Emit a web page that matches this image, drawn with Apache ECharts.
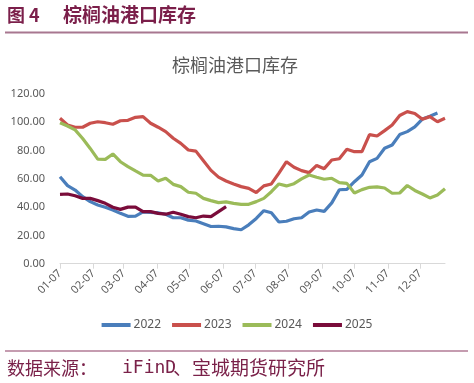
<!DOCTYPE html>
<html><head><meta charset="utf-8">
<script src="https://cdn.jsdelivr.net/npm/echarts@6/dist/echarts.min.js"></script>
<style>html,body{margin:0;padding:0;background:#fff}#c{width:474px;height:383px}</style>
</head><body><div id="c"></div>
<script>
// Month tick labels (MM-DD)
const monthLabels = ['01-07','02-07','03-07','04-07','05-07','06-07','07-07','08-07','09-07','10-07','11-07','12-07'];
// Y axis tick values
const yTicks = [0, 20, 40, 60, 80, 100, 120];
const seriesNames = ['2022', '2023', '2024', '2025'];
// Weekly port inventory values, starting 01-07, one value per week
const s2022 = [61.5, 55.2, 52.1, 47.4, 43.9, 41.5, 39.9, 38.0, 35.6, 33.5, 33.7, 36.6, 36.3, 36.0, 35.0, 32.5, 32.5, 30.8, 30.2, 28.3, 26.3, 26.5, 26.0, 24.8, 24.0, 27.5, 32.0, 37.5, 36.0, 29.5, 30.0, 31.8, 32.5, 36.5, 38.0, 37.0, 43.0, 52.3, 52.6, 58.0, 62.7, 72.1, 74.5, 81.6, 83.9, 91.3, 93.4, 96.7, 102.3, 104.2, 106.5];
const s2023 = [102.8, 98.1, 96.5, 96.5, 99.3, 100.4, 99.7, 98.6, 101.1, 101.4, 103.5, 104.0, 99.3, 96.5, 93.4, 88.7, 85.1, 80.4, 79.6, 72.8, 66.0, 61.2, 58.5, 56.4, 54.5, 53.3, 50.3, 55.0, 56.4, 64.0, 72.1, 68.2, 65.8, 64.4, 69.5, 67.2, 73.3, 74.2, 80.9, 79.2, 79.2, 91.3, 90.3, 94.1, 98.1, 104.8, 107.5, 106.2, 102.1, 104.0, 100.4, 102.8];
const s2024 = [99.7, 97.4, 94.6, 88.5, 81.5, 73.9, 73.8, 77.6, 72.1, 68.6, 65.6, 62.7, 62.5, 58.5, 60.4, 56.1, 54.5, 50.5, 49.8, 46.2, 44.6, 43.2, 43.7, 42.7, 42.0, 42.0, 43.9, 46.2, 50.9, 56.4, 55.0, 56.6, 60.0, 62.7, 61.1, 59.7, 60.4, 57.3, 56.8, 50.0, 52.4, 54.0, 54.3, 53.5, 49.8, 50.0, 55.3, 51.8, 49.3, 46.5, 48.6, 53.0];
const s2025 = [49.0, 49.3, 48.0, 46.2, 46.2, 44.6, 42.7, 39.9, 38.4, 40.0, 40.0, 36.8, 36.8, 35.6, 35.0, 36.4, 35.0, 33.3, 32.5, 33.7, 33.3, 36.8, 40.3];

const colors = ['#4A7EBB', '#C9504C', '#9BBB59', '#7A0C3A'];
const DAY = 86400000;
const base = Date.UTC(2022, 0, 7);
const monthDays = monthLabels.map(l => { const p = l.split('-').map(Number); return (Date.UTC(2022, p[0] - 1, p[1]) - base) / DAY; });
const labelByDay = {};
monthDays.forEach((d, i) => { labelByDay[d] = monthLabels[i]; });
const toPairs = arr => arr.map((v, i) => [i * 7, v]);
const allSeries = [s2022, s2023, s2024, s2025];
const xMax = (Math.max(...allSeries.map(a => a.length)) - 1) * 7;

const chart = echarts.init(document.getElementById('c'), null, { renderer: 'canvas' });
const cjk = '"Noto Sans CJK SC", "Noto Sans", sans-serif';
chart.setOption({
  animation: false,
  backgroundColor: '#ffffff',
  graphic: [
    { type: 'text', x: 7, y: 15, style: { text: '图 4', font: 'bold 18px ' + cjk, fill: '#7B1F4A', verticalAlign: 'middle' } },
    { type: 'text', x: 63, y: 15, style: { text: '棕榈油港口库存', font: 'bold 19px ' + cjk, fill: '#7B1F4A', verticalAlign: 'middle' } },
    { type: 'line', shape: { x1: 5, y1: 32.5, x2: 468, y2: 32.5 }, style: { stroke: '#A87790', lineWidth: 2 } },
    { type: 'text', x: 235, y: 65, style: { text: '棕榈油港口库存', font: '18px ' + cjk, fill: '#595959', align: 'center', verticalAlign: 'middle' } },
    { type: 'line', shape: { x1: 5, y1: 351, x2: 468, y2: 351 }, style: { stroke: '#8B3A62', lineWidth: 1.2 } },
    { type: 'text', x: 7, y: 368, style: { text: '数据来源：', font: '18px ' + cjk, fill: '#7A2149', verticalAlign: 'middle' } },
    { type: 'text', x: 122, y: 368, style: { text: 'iFinD', font: '18px "DejaVu Sans Mono", monospace', fill: '#7A2149', verticalAlign: 'middle' } },
    { type: 'text', x: 173, y: 368, style: { text: '、宝城期货研究所', font: '19px ' + cjk, fill: '#7A2149', verticalAlign: 'middle' } }
  ],
  legend: {
    data: seriesNames,
    left: 'center',
    top: 314,
    icon: 'rect',
    itemWidth: 29,
    itemHeight: 4,
    itemGap: 11,
    textStyle: { color: '#595959', fontSize: 12, fontFamily: '"Noto Sans", sans-serif', padding: [0, 0, 0, -2] }
  },
  grid: { left: 60, right: 29, top: 94, bottom: 119.3, containLabel: false },
  xAxis: {
    type: 'value',
    min: 0,
    max: xMax,
    axisLine: { show: true, lineStyle: { color: '#D9D9D9', width: 1 } },
    axisTick: { show: true, customValues: monthDays, length: 5, lineStyle: { color: '#D9D9D9' } },
    axisLabel: {
      customValues: monthDays,
      rotate: 45,
      margin: 8,
      color: '#595959',
      fontSize: 11,
      fontFamily: '"Noto Sans", sans-serif',
      formatter: v => labelByDay[v] || ''
    },
    splitLine: { show: false }
  },
  yAxis: {
    type: 'value',
    min: yTicks[0],
    max: yTicks[yTicks.length - 1],
    interval: yTicks[1] - yTicks[0],
    axisLine: { show: false },
    axisTick: { show: false },
    splitLine: { show: false },
    axisLabel: { color: '#595959', fontSize: 11, margin: 15, fontFamily: '"Noto Sans", sans-serif', formatter: v => v.toFixed(2) }
  },
  series: allSeries.map((arr, k) => ({
    name: seriesNames[k],
    type: 'line',
    data: toPairs(arr),
    showSymbol: false,
    symbol: 'none',
    smooth: false,
    lineStyle: { width: 3.2, color: colors[k] },
    itemStyle: { color: colors[k] }
  }))
});
</script>
</body></html>
